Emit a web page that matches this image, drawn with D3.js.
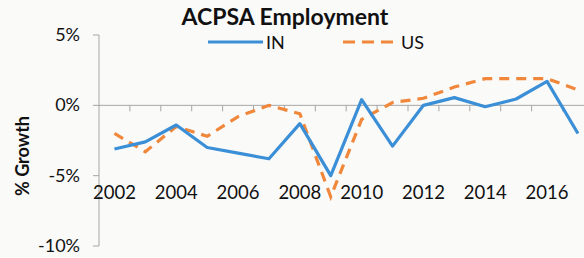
<!DOCTYPE html>
<html>
<head>
<meta charset="utf-8">
<script src="https://cdn.jsdelivr.net/npm/d3@7"></script>
<style>
  body { margin: 0; background: #fafaf9; }
  svg { display: block; font-family: Lato, "Open Sans", sans-serif; }
</style>
</head>
<body>
<svg id="chart" width="584" height="258"></svg>
<script>
// data (% growth)
const years = ['2002','2003','2004','2005','2006','2007','2008','2009','2010','2011','2012','2013','2014','2015','2016','2017'];
const inValues = [-3.1, -2.6, -1.4, -3.0, -3.4, -3.8, -1.3, -5.0, 0.4, -2.9, 0.0, 0.55, -0.1, 0.45, 1.7, -2.0];
const usValues = [-2.0, -3.3, -1.5, -2.2, -0.8, 0.0, -0.6, -6.5, -1.0, 0.2, 0.5, 1.3, 1.9, 1.9, 1.9, 1.1];
const yTicks = [5, 0, -5, -10];
const xLabels = ['2002','2004','2006','2008','2010','2012','2014','2016'];

const svg = d3.select('#chart');

// plot area (right side is cut off like the scan)
const plotLeft = 99, plotTop = 35, plotBottom = 246;
const bandW = 30.9;

const x = d3.scaleBand()
    .domain(years)
    .range([plotLeft, plotLeft + bandW * years.length]);

const y = d3.scaleLinear()
    .domain([-10, 5])
    .range([plotBottom, plotTop]);

const axisColor = '#a6a6a6';

// y axis line + ticks
svg.append('line')
    .attr('x1', plotLeft).attr('x2', plotLeft)
    .attr('y1', y(5)).attr('y2', y(-10))
    .attr('stroke', axisColor).attr('stroke-width', 1);

svg.append('g').selectAll('line')
    .data(yTicks)
    .enter().append('line')
    .attr('x1', plotLeft - 6).attr('x2', plotLeft)
    .attr('y1', d => y(d)).attr('y2', d => y(d))
    .attr('stroke', axisColor);

svg.append('g').selectAll('text')
    .data(yTicks)
    .enter().append('text')
    .attr('x', 80)
    .attr('y', d => y(d) + 6)
    .attr('text-anchor', 'end')
    .attr('font-size', 18)
    .attr('fill', '#111')
    .text(d => d + '%');

// x axis at 0% with category tick marks
svg.append('line')
    .attr('x1', plotLeft).attr('x2', 584)
    .attr('y1', y(0)).attr('y2', y(0))
    .attr('stroke', axisColor);

svg.append('g').selectAll('line')
    .data(years.slice(1))
    .enter().append('line')
    .attr('x1', d => x(d)).attr('x2', d => x(d))
    .attr('y1', y(0)).attr('y2', y(0) + 6)
    .attr('stroke', axisColor);

svg.append('g').selectAll('text')
    .data(xLabels)
    .enter().append('text')
    .attr('x', d => x(d) + x.bandwidth() / 2)
    .attr('y', 199)
    .attr('text-anchor', 'middle')
    .attr('font-size', 18.5)
    .attr('fill', '#111')
    .text(d => d);

// lines
const line = d3.line()
    .x((d, i) => x(years[i]) + x.bandwidth() / 2)
    .y(d => y(d));

svg.append('path')
    .datum(usValues)
    .attr('d', line)
    .attr('fill', 'none')
    .attr('stroke', '#f0873a')
    .attr('stroke-width', 3.2)
    .attr('stroke-dasharray', '10,7');

svg.append('path')
    .datum(inValues)
    .attr('d', line)
    .attr('fill', 'none')
    .attr('stroke', '#3b8fd7')
    .attr('stroke-width', 3.2)
    .attr('stroke-linejoin', 'round');

// title
svg.append('text')
    .attr('x', 285).attr('y', 25)
    .attr('text-anchor', 'middle')
    .attr('font-size', 23)
    .attr('font-weight', 'bold')
    .attr('fill', '#111')
    .text('ACPSA Employment');

// legend
const legend = [
    { name: 'IN', color: '#3b8fd7', dash: null, x0: 208 },
    { name: 'US', color: '#f0873a', dash: '12,7', x0: 343 }
];
const lg = svg.append('g').selectAll('g')
    .data(legend)
    .enter().append('g');
lg.append('line')
    .attr('x1', d => d.x0).attr('x2', d => d.x0 + 55)
    .attr('y1', 42).attr('y2', 42)
    .attr('stroke', d => d.color)
    .attr('stroke-width', 3.2)
    .attr('stroke-dasharray', d => d.dash);
lg.append('text')
    .attr('x', d => d.x0 + 58).attr('y', 48.5)
    .attr('font-size', 18)
    .attr('fill', '#111')
    .text(d => d.name);

// y axis title
svg.append('text')
    .attr('transform', 'translate(29,156) rotate(-90)')
    .attr('text-anchor', 'middle')
    .attr('font-size', 18)
    .attr('font-weight', 'bold')
    .attr('fill', '#111')
    .text('% Growth');
</script>
</body>
</html>
